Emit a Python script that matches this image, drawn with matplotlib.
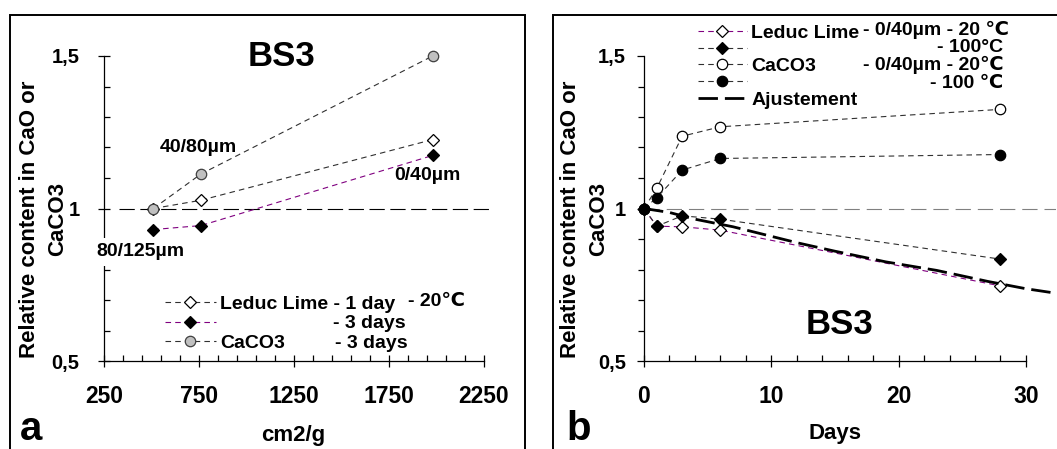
import matplotlib
matplotlib.use("Agg")
import matplotlib.pyplot as plt
from matplotlib.patches import Rectangle
from matplotlib.ticker import MultipleLocator, FixedLocator

plt.rcParams['font.family'] = ['Liberation Sans', 'DejaVu Sans']
plt.rcParams['font.weight'] = 'bold'
plt.rcParams['lines.scale_dashes'] = False

# ---------------- data: panel a ----------------
surface_a = [510, 760, 1980]
leduc_1day = [1.0, 1.027, 1.226]
leduc_3days = [0.931, 0.944, 1.174]
caco3_3days = [1.0, 1.113, 1.5]
ref_a_x = [330, 2290]
ref_a_y = [1.0, 1.0]
xticks_a = [250, 750, 1250, 1750, 2250]
xminor_a = [350, 450, 550, 650, 850, 950, 1050, 1150, 1350, 1450, 1550, 1650,
            1850, 1950, 2050, 2150]
yticks = [0.5, 1.0, 1.5]
ytick_labels = ['0,5', '1', '1,5']
size_labels = ['40/80µm', '0/40µm', '80/125µm']
ylabel_lines = ['Relative content in CaO or', 'CaCO3']

# ---------------- data: panel b ----------------
days = [0, 1, 3, 6, 28]
leduc_20 = [1.0, 0.942, 0.94, 0.929, 0.746]
leduc_100 = [1.0, 0.942, 0.976, 0.965, 0.834]
caco3_20 = [1.0, 1.066, 1.237, 1.268, 1.325]
caco3_100 = [1.0, 1.035, 1.126, 1.164, 1.177]
fit_days = [0, 2, 4, 7, 12, 15, 19, 23, 27, 30, 32.4]
fit_vals = [1.0, 0.987, 0.965, 0.94, 0.888, 0.86, 0.825, 0.797, 0.761, 0.737, 0.722]
xticks_b = [0, 10, 20, 30]
xminor_b = [2, 4, 6, 8, 12, 14, 16, 18, 22, 24, 26, 28]

W, H = 1057, 449
fig = plt.figure(figsize=(W / 100, H / 100), dpi=100)

def fx(px):
    return px / W

def fy(py):
    return (H - py) / H

PURPLE = '#800080'
DASH = (0, (4, 3))
thin = 0.8
LEG = 14

# panel frames
fig.add_artist(Rectangle((fx(10), -0.1), fx(525 - 10), fy(15) + 0.1, transform=fig.transFigure,
                         fill=False, lw=1.4, ec='black'))
fig.add_artist(Rectangle((fx(553), -0.1), 1.0, fy(15) + 0.1, transform=fig.transFigure,
                         fill=False, lw=1.4, ec='black'))

def style_axes(ax, xb, tick_in_y):
    for s in ['top', 'right']:
        ax.spines[s].set_visible(False)
    ax.spines['left'].set_bounds(0.5, 1.5)
    ax.spines['bottom'].set_bounds(*xb)
    for s in ['left', 'bottom']:
        ax.spines[s].set_linewidth(0.9)
    ax.set_ylim(0.5, 1.5)
    ax.set_yticks(yticks)
    ax.set_yticklabels(ytick_labels)
    ax.yaxis.set_minor_locator(MultipleLocator(0.1))
    ax.tick_params(axis='x', which='major', direction='inout', length=9, width=0.9,
                   labelsize=16.5, pad=13)
    ax.tick_params(axis='x', which='minor', direction='in', length=4, width=0.9)
    ax.tick_params(axis='y', which='major', direction='inout' if tick_in_y else 'out',
                   length=9 if tick_in_y else 5, width=0.9, labelsize=14.5,
                   pad=13 if tick_in_y else 8)
    ax.tick_params(axis='y', which='minor', direction='in' if tick_in_y else 'out', length=4, width=0.9)
    for lab in ax.get_xticklabels() + ax.get_yticklabels():
        lab.set_fontweight('bold')

# ---------------- panel a ----------------
x0a, x1a = 250, 2290
axa = fig.add_axes([fx(104), fy(361), fx(104 + (x1a - x0a) * 0.19) - fx(104), (361 - 56) / H])
axa.set_xlim(x0a, x1a)
axa.set_xticks(xticks_a)
axa.xaxis.set_minor_locator(FixedLocator(xminor_a))
style_axes(axa, (250, 2250), True)

axa.plot(ref_a_x, ref_a_y, color='black', lw=0.8, ls=(0, (11, 4)), zorder=1)
la1, = axa.plot(surface_a, leduc_1day, color='#303030', lw=thin, ls=DASH, marker='D', ms=6.5,
                mfc='white', mec='black', mew=0.9, zorder=3, clip_on=False)
la2, = axa.plot(surface_a, leduc_3days, color=PURPLE, lw=thin, ls=DASH, marker='D', ms=6.5,
                mfc='black', mec='black', mew=0.9, zorder=3, clip_on=False)
la3, = axa.plot(surface_a, caco3_3days, color='#303030', lw=thin, ls=DASH, marker='o', ms=7.5,
                mfc='#c0c0c0', mec='#404040', mew=0.9, zorder=4, clip_on=False)

fig.text(fx(282), fy(56), 'BS3', fontsize=25, fontweight='bold', ha='center', va='center')
fig.text(fx(198), fy(147), size_labels[0], fontsize=14, fontweight='bold', ha='center', va='center')
fig.text(fx(427), fy(176), size_labels[1], fontsize=14, fontweight='bold', ha='center', va='center')
fig.text(fx(140), fy(252), size_labels[2], fontsize=14, fontweight='bold', ha='center', va='center',
         bbox=dict(facecolor='white', edgecolor='none', pad=4), zorder=10)
fig.text(fx(30), fy(219), ylabel_lines[0], fontsize=16, fontweight='bold',
         rotation=90, ha='center', va='center')
fig.text(fx(58), fy(219), ylabel_lines[1], fontsize=16, fontweight='bold',
         rotation=90, ha='center', va='center')
fig.text(fx(293), fy(435), 'cm2/g', fontsize=16, fontweight='bold', ha='center', va='center')
fig.text(fx(20), fy(440), 'a', fontsize=29, fontweight='bold', ha='left', va='baseline')

lega = axa.legend([la1, la2, la3], ['Leduc Lime - 1 day', ' ', 'CaCO3'],
                  loc='upper left', bbox_to_anchor=(fx(165), fy(295)),
                  bbox_transform=fig.transFigure, frameon=False, numpoints=1,
                  handlelength=2.6, handletextpad=0.25, labelspacing=0.11, borderpad=0,
                  borderaxespad=0, prop=dict(size=LEG, weight='bold'))
fig.text(fx(408), fy(302), '- 20℃', fontsize=LEG, fontweight='bold', ha='left', va='center')
fig.text(fx(333), fy(323), '- 3 days', fontsize=LEG, fontweight='bold', ha='left', va='center')
fig.text(fx(335), fy(343), '- 3 days', fontsize=LEG, fontweight='bold', ha='left', va='center')

# ---------------- panel b ----------------
x0b, x1b = 0, 32.4
axb = fig.add_axes([fx(644), fy(361), fx(644 + (x1b - x0b) * 12.73) - fx(644), (361 - 56) / H])
axb.set_xlim(x0b, x1b)
axb.set_xticks(xticks_b)
axb.xaxis.set_minor_locator(FixedLocator(xminor_b))
style_axes(axb, (0, 30), False)

axb.axhline(1.0, color='#808080', lw=0.8, ls=(0, (11, 5)), zorder=1)
lb1, = axb.plot(days, leduc_20, color=PURPLE, lw=thin, ls=DASH, marker='D', ms=6.5,
                mfc='white', mec='black', mew=0.9, zorder=3, clip_on=False)
lb5, = axb.plot(fit_days, fit_vals, color='black', lw=2.0, ls=(0, (14, 5)), zorder=3.5, clip_on=False)
lb2, = axb.plot(days, leduc_100, color='#303030', lw=thin, ls=DASH, marker='D', ms=6.5,
                mfc='black', mec='black', mew=0.9, zorder=4, clip_on=False)
lb3, = axb.plot(days, caco3_20, color='#303030', lw=thin, ls=DASH, marker='o', ms=7.5,
                mfc='white', mec='black', mew=0.9, zorder=4, clip_on=False)
lb4, = axb.plot(days, caco3_100, color='#303030', lw=thin, ls=DASH, marker='o', ms=7.5,
                mfc='black', mec='black', mew=0.9, zorder=5, clip_on=False)

fig.text(fx(840), fy(325), 'BS3', fontsize=25, fontweight='bold', ha='center', va='center')
fig.text(fx(571), fy(219), ylabel_lines[0], fontsize=16, fontweight='bold',
         rotation=90, ha='center', va='center')
fig.text(fx(599), fy(219), ylabel_lines[1], fontsize=16, fontweight='bold',
         rotation=90, ha='center', va='center')
fig.text(fx(835), fy(433), 'Days', fontsize=16, fontweight='bold', ha='center', va='center')
fig.text(fx(566), fy(440), 'b', fontsize=29, fontweight='bold', ha='left', va='baseline')

legb = axb.legend([lb1, lb2, lb3, lb4, lb5], ['Leduc Lime', ' ', 'CaCO3', ' ', 'Ajustement'],
                  loc='upper left', bbox_to_anchor=(fx(698), fy(24)),
                  bbox_transform=fig.transFigure, frameon=False, numpoints=1,
                  handlelength=2.5, handletextpad=0.25, labelspacing=-0.04, borderpad=0,
                  borderaxespad=0, prop=dict(size=LEG, weight='bold'))
fig.text(fx(863), fy(30), '- 0/40µm - 20 ℃', fontsize=LEG, fontweight='bold', ha='left', va='center')
fig.text(fx(1003), fy(48), '- 100°C', fontsize=LEG, fontweight='bold', ha='right', va='center')
fig.text(fx(863), fy(65), '- 0/40µm - 20℃', fontsize=LEG, fontweight='bold', ha='left', va='center')
fig.text(fx(1003), fy(83), '- 100 ℃', fontsize=LEG, fontweight='bold', ha='right', va='center')

fig.savefig('out.png', dpi=100)
